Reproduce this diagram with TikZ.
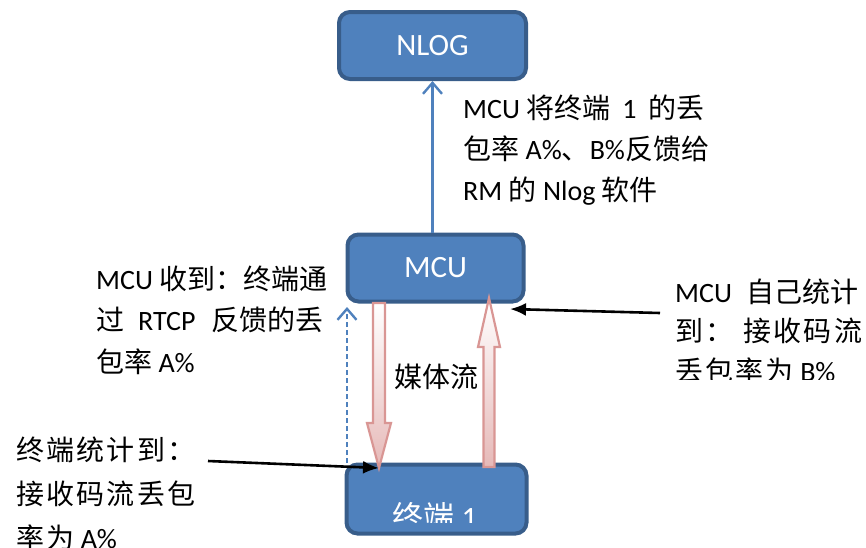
\documentclass[tikz,border=0pt]{standalone}
\usepackage{fontspec}
\setmainfont{Carlito}
\newfontfamily\cjk{Noto Sans CJK SC}
\newfontfamily\cjksp{Noto Sans CJK SC}[LetterSpace=8]
\usetikzlibrary{arrows.meta}
\definecolor{boxfill}{HTML}{4F81BD}
\definecolor{boxline}{HTML}{385D8A}
\definecolor{pinkline}{HTML}{D99694}
\definecolor{pinkfill}{HTML}{E6B9B8}
\newcommand\zh[1]{{\cjk #1}}
\tikzset{
  lbl/.style={anchor=base west, inner sep=0pt, font=\fontsize{28}{34}\selectfont, text=black},
  box/.style={draw=boxline, line width=4pt, fill=boxfill, rounded corners=11pt,
              text=white, font=\fontsize{31}{36}\selectfont, inner sep=0pt},
  flow/.style={draw=pinkline, line width=2.2pt, top color=white, bottom color=pinkfill},
  fb/.style={draw=boxfill, line width=2.4pt, -{Straight Barb[length=11pt,width=19pt]}},
  pointer/.style={draw=black, line width=2.6pt, -{Latex[length=16pt,width=13pt]}},
}
\begin{document}
\begin{tikzpicture}[x=1pt,y=-1pt]
\useasboundingbox (0,0) rectangle (866,547);

% boxes
\node[box, minimum width=187pt, minimum height=67pt] (nlog) at (432.5,45.5) {NLOG};
\node[box, minimum width=176pt, minimum height=67pt] (mcu) at (435.5,268) {MCU};
\node[box, minimum width=180pt, minimum height=69pt] (term) at (436.5,499) {};
\begin{scope}
  \clip (340,460) rectangle (540,522);
  \node[anchor=base, inner sep=0pt, text=white, font=\fontsize{31}{36}\selectfont] (termtxt) at (435,528) {\zh{终端} 1};
\end{scope}

% MCU reports to NLOG
\draw[fb] (mcu.north -| nlog.south) -- (nlog.south);

% RTCP feedback from the terminal (dashed)
\coordinate (fbstart) at (347,463);
\coordinate (fbend) at (347,307);
\draw[fb, dashed, dash pattern=on 5pt off 3pt] (fbstart) -- (fbend);

% media stream arrows
\coordinate (downtip) at (379,468);
\coordinate (uptip) at (489,298);
\path[flow] (373,303) -- (385,303) -- (385,423) -- (391,423) -- (downtip)
            -- (367,423) -- (373,423) -- cycle;
\path[flow] (483.5,467) -- (483.5,347) -- (478,347) -- (uptip) -- (500,347)
            -- (494.5,347) -- (494.5,467) -- cycle;
\node[anchor=center, inner sep=0pt, font=\fontsize{28}{34}\selectfont\cjk] (media) at (436,377) {媒体流};

% captions
\node[lbl] (ta) at (463,118) {MCU \zh{将终端}\hspace{12pt}1\hspace{12pt}\zh{的丢}};
\node[lbl] (tb) at (463,159) {\zh{包率} A\%\zh{、}B\%\zh{反馈给}};
\node[lbl] (tc) at (463,200) {RM \zh{的} Nlog \zh{软件}};

\node[lbl] (la) at (96,289) {MCU \zh{收到：终端通}};
\node[lbl] (lb) at (96,330) {\zh{过}\hspace{14pt}RTCP\hspace{16pt}\zh{反馈的丢}};
\node[lbl] (lc) at (96,372) {\zh{包率} A\%};

\node[lbl] (da) at (16,460) {\cjksp 终端统计到：};
\node[lbl] (db) at (16,504) {\cjksp 接收码流丢包};
\node[lbl] (dc) at (16,548) {{\cjksp 率为} A\%};

\node[lbl] (ra) at (675,302) {MCU\hspace{14pt}{\cjk 自己统计}};
\node[lbl] (rb) at (675,341) {{\cjksp 到：}\hspace{10pt}{\cjksp 接收码流}};
\begin{scope}
  \clip (600,350) rectangle (866,379);
  \node[lbl] (rc) at (675,381) {{\cjksp 丢包率为} B\%};
\end{scope}

% pointers
\coordinate (lp) at (208,461);
\coordinate (rp) at (660,313);
\coordinate (rtip) at (510,309);
\draw[pointer] (lp) -- (downtip);
\draw[pointer] (rp) -- (rtip);
\end{tikzpicture}
\end{document}
